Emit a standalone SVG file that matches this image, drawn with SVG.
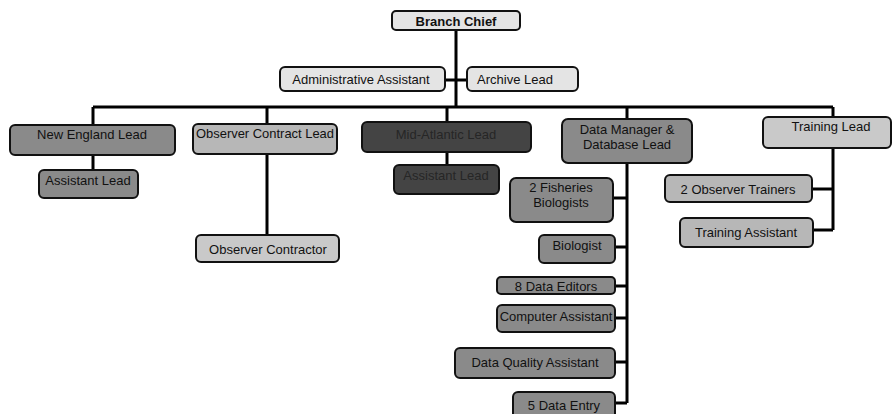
<svg xmlns="http://www.w3.org/2000/svg" width="894" height="414" viewBox="0 0 894 414">
<style>
.box{stroke:#111;stroke-width:2;}
.t{font-family:"Liberation Sans",Arial,sans-serif;font-size:13px;fill:#111;text-anchor:middle;}
.b{font-weight:bold;}
.light{fill:#e4e4e4;}
.pale{fill:#c9c9c9;}
.mid{fill:#b7b7b7;}
.med{fill:#8a8a8a;}
.dark{fill:#444444;}
.c{stroke:#000;stroke-width:3;fill:none;}
</style>
<rect width="894" height="414" fill="#ffffff"/>
<g id="connectors">
<path class="c" d="M456 30V107M445 80H467M93 107H833M93 107V170M267 107V235M447 107V165M627 107V403M833 107V230"/>
<path class="c" d="M613 198H627M615 247H627M615 286H627M615 318H627M615 362H627M615 403H627M812 189H833M813 230H833"/>
</g>
<g id="branch-chief"><rect class="box light" x="392" y="11" width="128" height="19" rx="4"/><text class="t b" x="456" y="26" font-size="15">Branch Chief</text></g>
<g id="admin-assistant"><rect class="box light" x="280" y="67" width="165" height="24" rx="5"/><text class="t" x="361" y="84">Administrative Assistant</text></g>
<g id="archive-lead"><rect class="box light" x="467" y="67" width="111" height="24" rx="5"/><text class="t" x="515" y="84">Archive Lead</text></g>
<g id="new-england-lead"><rect class="box med" x="10" y="125" width="165" height="30" rx="5"/><text class="t" x="92" y="139">New England Lead</text></g>
<g id="ne-assistant-lead"><rect class="box med" x="39" y="170" width="99" height="28" rx="5"/><text class="t" x="88" y="185">Assistant Lead</text></g>
<g id="observer-contract-lead"><rect class="box mid" x="193" y="124" width="144" height="30" rx="5"/><text class="t" x="265" y="138" textLength="138" lengthAdjust="spacingAndGlyphs">Observer Contract Lead</text></g>
<g id="observer-contractor"><rect class="box pale" x="196" y="235" width="143" height="27" rx="5"/><text class="t" x="268" y="254">Observer Contractor</text></g>
<g id="mid-atlantic-lead"><rect class="box dark" x="362" y="122" width="169" height="30" rx="5"/><text class="t" x="446" y="139" fill="#262626" style="fill:#262626">Mid-Atlantic Lead</text></g>
<g id="ma-assistant-lead"><rect class="box dark" x="394" y="165" width="105" height="29" rx="5"/><text class="t" x="446" y="180" style="fill:#262626">Assistant Lead</text></g>
<g id="data-manager"><rect class="box med" x="562" y="119" width="130" height="44" rx="6"/><text class="t" x="627" y="134">Data Manager &amp;</text><text class="t" x="627" y="149">Database Lead</text></g>
<g id="fisheries-biologists"><rect class="box med" x="510" y="178" width="103" height="44" rx="6"/><text class="t" x="561" y="192">2 Fisheries</text><text class="t" x="561" y="207">Biologists</text></g>
<g id="biologist"><rect class="box med" x="539" y="235" width="76" height="28" rx="5"/><text class="t" x="577" y="250">Biologist</text></g>
<g id="data-editors"><rect class="box med" x="497" y="277" width="118" height="17" rx="4"/><text class="t" x="556" y="291">8 Data Editors</text></g>
<g id="computer-assistant"><rect class="box med" x="497" y="305" width="118" height="27" rx="5"/><text class="t" x="556" y="321">Computer Assistant</text></g>
<g id="data-quality-assistant"><rect class="box med" x="455" y="348" width="160" height="30" rx="5"/><text class="t" x="535" y="367">Data Quality Assistant</text></g>
<g id="data-entry"><rect class="box med" x="513" y="392" width="102" height="30" rx="5"/><text class="t" x="564" y="410">5 Data Entry</text></g>
<g id="training-lead"><rect class="box pale" x="763" y="117" width="128" height="31" rx="5"/><text class="t" x="831" y="131">Training Lead</text></g>
<g id="observer-trainers"><rect class="box mid" x="665" y="175" width="147" height="27" rx="5"/><text class="t" x="738" y="194">2 Observer Trainers</text></g>
<g id="training-assistant"><rect class="box mid" x="680" y="218" width="133" height="29" rx="5"/><text class="t" x="746" y="237">Training Assistant</text></g>
</svg>
